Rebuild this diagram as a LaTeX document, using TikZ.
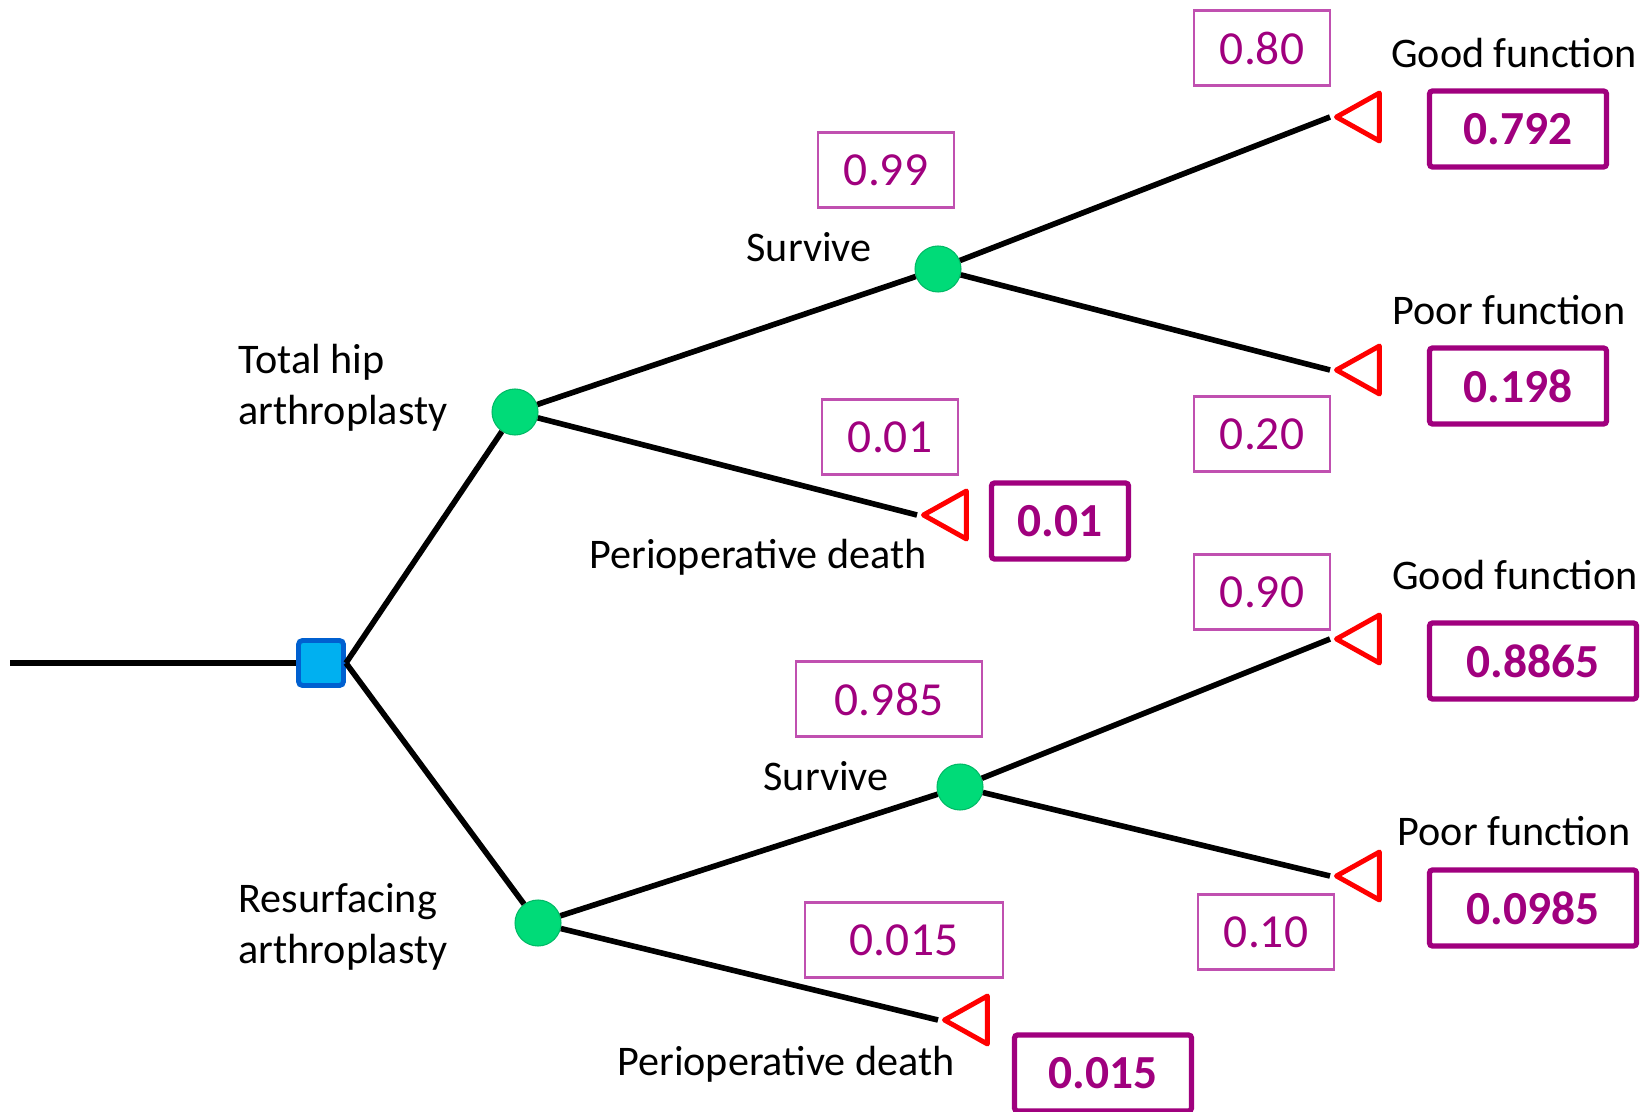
\documentclass[tikz,border=0pt]{standalone}
\usepackage{fontspec}
\setmainfont{Carlito}
\usepackage{tikz}
\usetikzlibrary{shapes.geometric,calc}
\usepackage{xcolor}
\definecolor{probmag}{HTML}{A0007E}
\definecolor{thinmag}{HTML}{C050B0}
\definecolor{chgreen}{HTML}{00DB78}
\definecolor{decfill}{HTML}{00B0F0}
\definecolor{decline}{HTML}{0060D0}
\tikzset{
  branch/.style={line width=1.6pt, draw=black},
  decision/.style={draw=decline, fill=decfill, line width=1.4pt, rounded corners=0.4mm, minimum size=0.45cm, inner sep=0pt},
  chance/.style={circle, fill=chgreen, draw=chgreen!85!black, line width=0.3pt, minimum size=0.46cm, inner sep=0pt},
  leaf/.style={isosceles triangle, isosceles triangle stretches, shape border rotate=180, draw=red, line width=1.4pt, line join=round, minimum width=0.48cm, minimum height=0.43cm, inner sep=0pt},
  probbox/.style={draw=thinmag, line width=0.6pt, text=probmag, minimum height=0.75cm, inner sep=0pt, font=\fontsize{13.5}{16}\selectfont},
  resultbox/.style={draw=probmag, line width=1.5pt, rounded corners=0.3mm, text=probmag, minimum height=0.76cm, inner sep=0pt, font=\fontsize{13.5}{16}\selectfont\bfseries},
  lbl/.style={font=\fontsize{12}{14.4}\selectfont, inner sep=0pt}
}
\begin{document}
\begin{tikzpicture}
  \useasboundingbox (0,0) rectangle (16.49,11.11);
  \coordinate (start) at (0.105,4.48);
  \node[decision] (dec) at (3.21,4.48) {};
  \node[chance] (tha) at (5.15,6.99) {};
  \node[chance] (ra) at (5.38,1.88) {};
  \node[chance] (surv1) at (9.38,8.42) {};
  \node[chance] (surv2) at (9.60,3.24) {};
  \node[leaf, anchor=apex] (death1) at (9.17,5.96) {};
  \node[leaf, anchor=apex] (good1) at (13.30,9.94) {};
  \node[leaf, anchor=apex] (poor1) at (13.30,7.41) {};
  \node[leaf, anchor=apex] (good2) at (13.30,4.72) {};
  \node[leaf, anchor=apex] (poor2) at (13.30,2.35) {};
  \node[leaf, anchor=apex] (death2) at (9.38,0.91) {};

  \draw[branch] (start) -- (dec.west);
  \draw[branch] (dec.east) -- (tha);
  \draw[branch] (dec.east) -- (ra);
  \draw[branch] (tha) -- (surv1);
  \draw[branch] (tha) -- (death1.apex);
  \draw[branch] (surv1) -- (good1.apex);
  \draw[branch] (surv1) -- (poor1.apex);
  \draw[branch] (ra) -- (surv2);
  \draw[branch] (ra) -- (death2.apex);
  \draw[branch] (surv2) -- (good2.apex);
  \draw[branch] (surv2) -- (poor2.apex);

  \node[probbox, minimum width=1.36cm] (p080) at (12.62,10.63) {0.80};
  \node[probbox, minimum width=1.36cm] (p099) at (8.86,9.41) {0.99};
  \node[probbox, minimum width=1.36cm] (p001) at (8.90,6.74) {0.01};
  \node[probbox, minimum width=1.36cm] (p020) at (12.62,6.77) {0.20};
  \node[probbox, minimum width=1.36cm] (p090) at (12.62,5.19) {0.90};
  \node[probbox, minimum width=1.86cm] (p0985) at (8.89,4.12) {0.985};
  \node[probbox, minimum width=1.98cm] (p0015) at (9.04,1.71) {0.015};
  \node[probbox, minimum width=1.36cm] (p010) at (12.66,1.79) {0.10};

  \node[resultbox, minimum width=1.77cm] (r792) at (15.18,9.82) {0.792};
  \node[resultbox, minimum width=1.77cm] (r198) at (15.18,7.25) {0.198};
  \node[resultbox, minimum width=1.37cm] (r01) at (10.60,5.90) {0.01};
  \node[resultbox, minimum width=2.07cm] (r8865) at (15.33,4.50) {0.8865};
  \node[resultbox, minimum width=2.07cm] (r0985) at (15.33,2.03) {0.0985};
  \node[resultbox, minimum width=1.77cm] (r015) at (11.03,0.38) {0.015};

  \node[lbl] (lgood1) at (15.14,10.58) {Good function};
  \node[lbl] (lpoor1) at (15.09,8.01) {Poor function};
  \node[lbl] (lgood2) at (15.15,5.36) {Good function};
  \node[lbl] (lpoor2) at (15.14,2.80) {Poor function};
  \node[lbl] (lsurv1) at (8.09,8.64) {Survive};
  \node[lbl] (lsurv2) at (8.26,3.35) {Survive};
  \node[lbl, align=left, anchor=west] (ltha) at (2.38,7.23) {Total hip\\arthroplasty};
  \node[lbl, align=left, anchor=west] (lra) at (2.38,1.84) {Resurfacing\\arthroplasty};
  \node[lbl] (ldeath1) at (7.58,5.54) {Perioperative death};
  \node[lbl] (ldeath2) at (7.86,0.47) {Perioperative death};
\end{tikzpicture}
\end{document}
